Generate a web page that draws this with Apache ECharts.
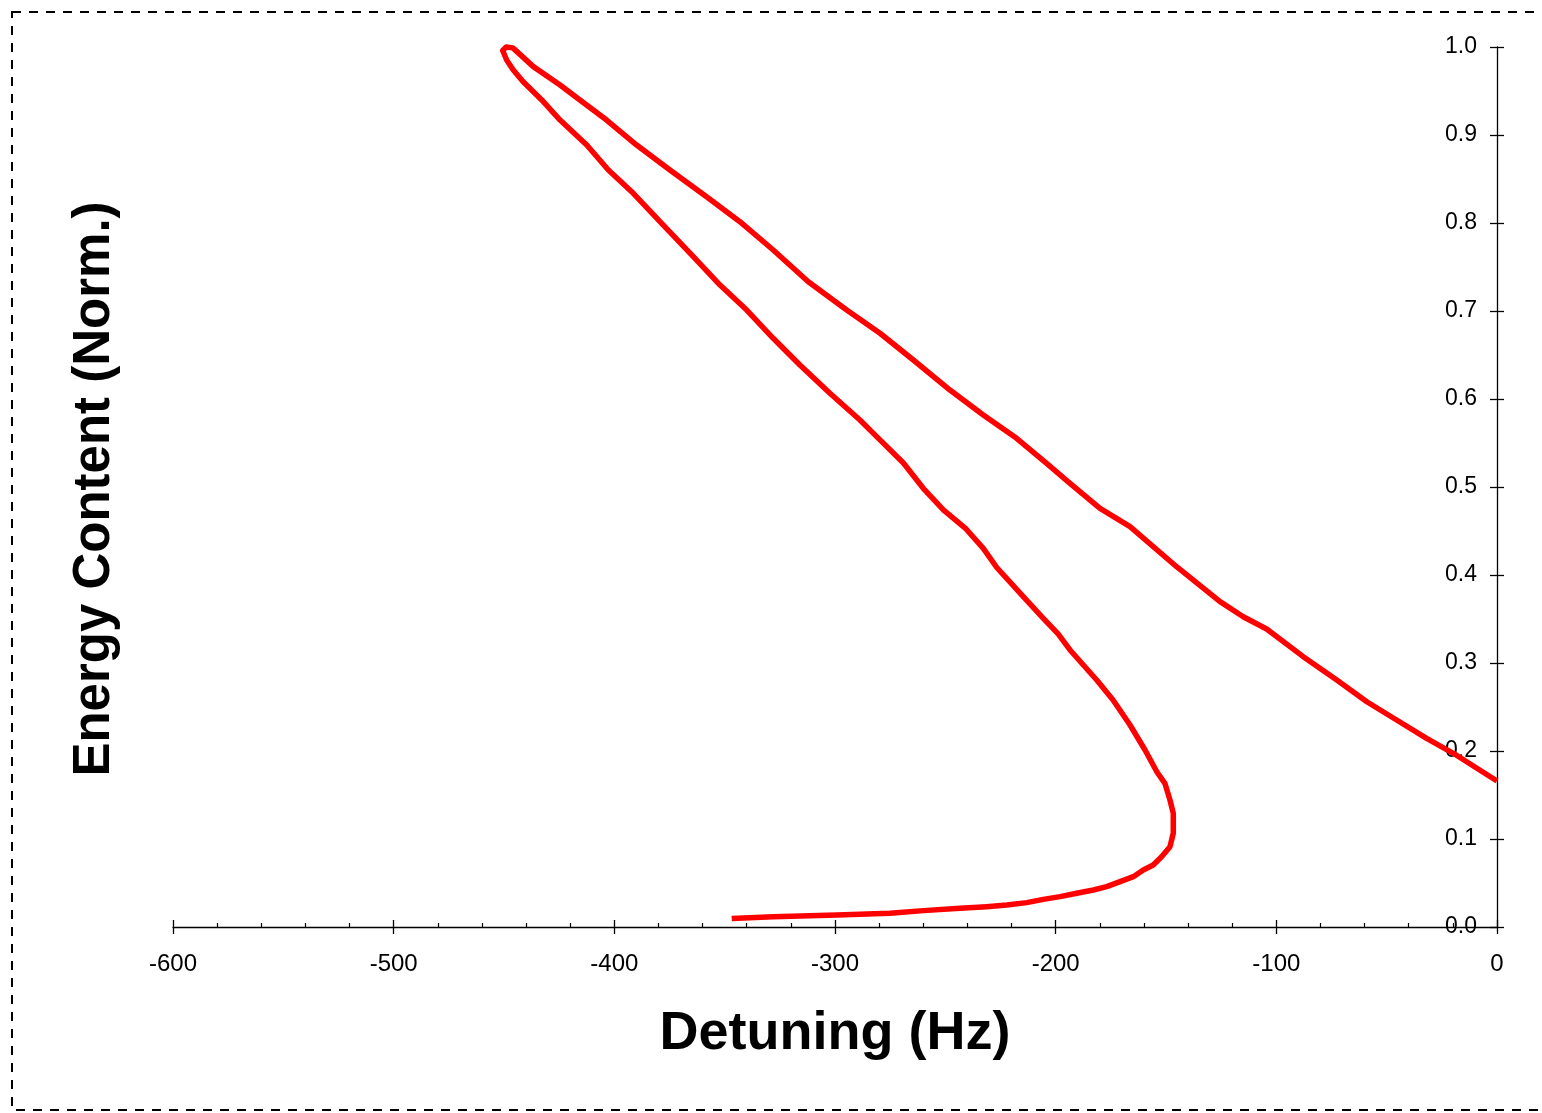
<!DOCTYPE html>
<html>
<head>
<meta charset="utf-8">
<script src="https://cdn.jsdelivr.net/npm/echarts@6/dist/echarts.min.js"></script>
<style>
html,body{margin:0;padding:0;background:#fff;}
#chart{width:1542px;height:1113px;}
</style>
</head>
<body>
<div id="chart"></div>
<script>
// Detuning (Hz) and normalized energy content
const detuning = [
  -346.8, -328.0, -299.2, -275.1, -260.0, -243.4, -231.3, -222.2, -213.1, -205.6,
  -198.0, -190.5, -182.9, -176.9, -170.8, -164.8, -160.3, -155.8, -152.0, -148.2,
  -146.7, -146.7, -148.2, -150.5, -154.1, -159.5, -166.3, -174.0, -181.4, -193.5,
  -198.9, -205.6, -215.4, -226.7, -232.8, -240.6, -250.9, -260.0, -269.0, -281.1,
  -288.7, -302.3, -315.9, -328.0, -340.0, -352.1, -364.2, -377.8, -391.4, -402.7,
  -412.5, -424.6, -432.9, -441.3, -445.8, -448.8, -450.6, -449.0, -446.0,
  -436.7, -424.6, -415.6, -403.5, -389.9, -374.8, -358.2, -343.1, -328.0, -312.1,
  -294.7, -279.6, -264.5, -247.9, -232.8, -217.7, -204.1, -193.5, -179.9, -166.3,
  -145.2, -125.5, -115.0, -104.4, -87.8, -72.6, -59.0, -45.5, -31.9, -19.8, 0.0
];
const energy = [
  0.0097, 0.0117, 0.0136, 0.0155, 0.0186, 0.0212, 0.0231, 0.0250, 0.0277, 0.0314,
  0.0345, 0.0383, 0.0420, 0.0458, 0.0515, 0.0572, 0.0648, 0.0705, 0.0799, 0.0913,
  0.1065, 0.1292, 0.1443, 0.1633, 0.1761, 0.2011, 0.2295, 0.2580, 0.2807, 0.3148,
  0.3330, 0.3508, 0.3773, 0.4085, 0.4303, 0.4523, 0.4739, 0.4985, 0.5273, 0.5572,
  0.5761, 0.6065, 0.6386, 0.6690, 0.7011, 0.7295, 0.7617, 0.7977, 0.8337, 0.8602,
  0.8886, 0.9170, 0.9398, 0.9606, 0.9739, 0.9852, 0.9960, 1.0000, 0.9990,
  0.9777, 0.9568, 0.9398, 0.9170, 0.8886, 0.8602, 0.8299, 0.8015, 0.7693, 0.7333,
  0.7011, 0.6747, 0.6443, 0.6102, 0.5818, 0.5553, 0.5269, 0.5042, 0.4758, 0.4549,
  0.4094, 0.3697, 0.3526, 0.3386, 0.3072, 0.2807, 0.2560, 0.2352, 0.2144, 0.1974, 0.1659
];
const xTicks = [-600, -500, -400, -300, -200, -100, 0];
const yTicks = [0.0, 0.1, 0.2, 0.3, 0.4, 0.5, 0.6, 0.7, 0.8, 0.9, 1.0];
const xTitle = 'Detuning (Hz)';
const yTitle = 'Energy Content (Norm.)';

const points = detuning.map((d, i) => [d, energy[i]]);
const FONT = 'Liberation Sans, Arial, sans-serif';

const chart = echarts.init(document.getElementById('chart'), null, {renderer: 'canvas'});
const xBase = {
  type: 'value', min: xTicks[0], max: xTicks[xTicks.length - 1], interval: 100,
  position: 'bottom', splitLine: {show: false}
};
const yBase = {
  type: 'value', min: yTicks[0], max: yTicks[yTicks.length - 1], interval: 0.1,
  position: 'right', splitLine: {show: false}
};
chart.setOption({
  animation: false,
  backgroundColor: '#ffffff',
  grid: {left: 173, right: 45, top: 47, bottom: 186, containLabel: false},
  xAxis: [
    Object.assign({}, xBase, {
      axisLine: {onZero: false, lineStyle: {color: '#000', width: 1.3}},
      axisTick: {show: true, inside: true, length: 7, lineStyle: {color: '#000', width: 1.3}},
      minorTick: {show: true, splitNumber: 5, length: 4, lineStyle: {color: '#000', width: 1.2}},
      axisLabel: {margin: 25, color: '#000', fontSize: 24, fontFamily: FONT,
        formatter: v => String(v)},
      name: xTitle, nameLocation: 'middle', nameGap: 80,
      nameTextStyle: {color: '#000', fontSize: 54, fontWeight: 'bold', fontFamily: FONT}
    }),
    Object.assign({}, xBase, {
      axisLine: {show: false, onZero: false},
      axisTick: {show: true, inside: false, length: 7, lineStyle: {color: '#000', width: 1.3}},
      axisLabel: {show: false}
    })
  ],
  yAxis: [
    Object.assign({}, yBase, {
      axisLine: {show: true, onZero: false, lineStyle: {color: '#000', width: 1.3}},
      axisTick: {show: true, inside: false, length: 7, lineStyle: {color: '#000', width: 1.3}},
      axisLabel: {inside: true, margin: 20, color: '#000', fontSize: 23, fontFamily: FONT,
        formatter: v => v.toFixed(1)}
    }),
    Object.assign({}, yBase, {
      axisLine: {show: false, onZero: false},
      axisTick: {show: true, inside: true, length: 7, lineStyle: {color: '#000', width: 1.3}},
      axisLabel: {show: false}
    })
  ],
  graphic: [
    {
      type: 'rect', silent: true, z: -1,
      shape: {x: 12, y: 12, width: 1540, height: 1098},
      style: {fill: 'none', stroke: '#000', lineWidth: 2, lineDash: [9, 8]}
    },
    {
      type: 'text', silent: true,
      x: 95, y: 489, rotation: Math.PI / 2,
      style: {text: yTitle, fill: '#000', font: 'bold 51px ' + FONT,
        textAlign: 'center', textVerticalAlign: 'middle'}
    }
  ],
  series: [{
    type: 'line',
    xAxisIndex: 0, yAxisIndex: 0,
    data: points,
    showSymbol: false,
    symbol: 'none',
    clip: false,
    lineStyle: {color: '#ff0000', width: 5.5, join: 'round'}
  }]
});
</script>
</body>
</html>
